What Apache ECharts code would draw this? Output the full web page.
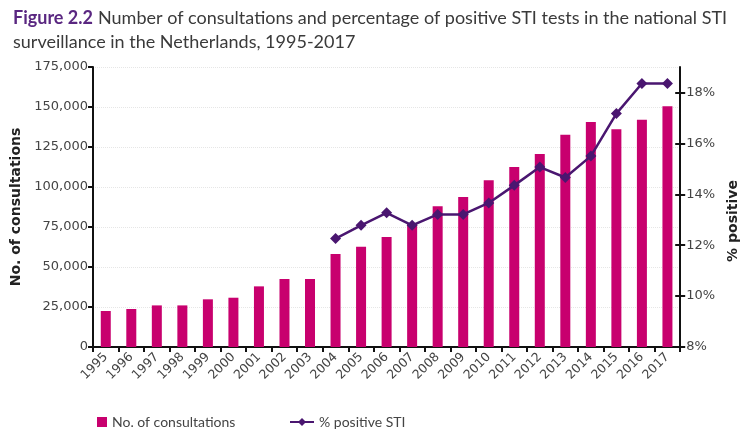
<!DOCTYPE html>
<html>
<head>
<meta charset="utf-8">
<script src="https://cdn.jsdelivr.net/npm/echarts@6/dist/echarts.min.js"></script>
<style>html,body{margin:0;padding:0;background:#fff;}#c{width:748px;height:436px;}</style>
</head>
<body>
<div id="c"></div>
<script>
const years = ['1995','1996','1997','1998','1999','2000','2001','2002','2003','2004','2005','2006','2007','2008','2009','2010','2011','2012','2013','2014','2015','2016','2017'];
const consultations = [22500,23750,26000,26000,29800,30800,37900,42500,42500,58100,62700,68700,77000,87900,93700,104200,112500,120600,132700,140600,136100,142100,150400];
const pctPositive = [null,null,null,null,null,null,null,null,null,12.26,12.78,13.27,12.78,13.21,13.21,13.66,14.35,15.07,14.66,15.50,17.17,18.35,18.35];
const leftTicks = [0,25000,50000,75000,100000,125000,150000,175000];
const rightTicks = [8,10,12,14,16,18];

const chart = echarts.init(document.getElementById('c'));
const labelFont = 'DejaVu Sans';
const textFont = 'Lato, "Noto Sans", sans-serif';
chart.setOption({
  animation: false,
  title: {
    left: 8, top: 1,
    text: '{a|Figure 2.2} {b|Number of consultations and percentage of positive STI tests in the national STI}\n{b|surveillance in the Netherlands, 1995-2017}',
    textStyle: {
      fontWeight: 'normal',
      rich: {
        a: {fontFamily: textFont, fontSize: 18, fontWeight: 'bold', color: '#5a2781', lineHeight: 24},
        b: {fontFamily: textFont, fontSize: 18, fontWeight: 'normal', color: '#3a3a3a', lineHeight: 24}
      }
    }
  },
  grid: {left: 93, right: 67, top: 67, bottom: 89, containLabel: false},
  legend: [
    {data: [{name: 'No. of consultations', icon: 'rect'}], left: 92, top: 410, itemWidth: 10, itemHeight: 10,
     textStyle: {fontFamily: textFont, fontSize: 14, color: '#444'}},
    {data: [{name: '% positive STI'}], left: 284, top: 410, itemWidth: 24, itemHeight: 10,
     textStyle: {fontFamily: textFont, fontSize: 14, color: '#444'}}
  ],
  xAxis: {
    type: 'category', data: years, boundaryGap: true,
    axisLine: {lineStyle: {color: '#111', width: 2}},
    axisTick: {show: true, length: 5, lineStyle: {color: '#111', width: 2}},
    axisLabel: {rotate: 45, interval: 0, fontFamily: labelFont, fontSize: 12.5, color: '#444', margin: 8}
  },
  yAxis: [
    {type: 'value', min: 0, max: 175000, interval: 25000, position: 'left',
     name: 'No. of consultations', nameLocation: 'middle', nameGap: 70, nameRotate: 90,
     nameTextStyle: {fontFamily: labelFont, fontSize: 14, fontWeight: 'bold', color: '#222'},
     axisLine: {show: true, lineStyle: {color: '#111', width: 2}},
     axisTick: {show: true, length: 5, lineStyle: {color: '#111', width: 2}},
     axisLabel: {fontFamily: labelFont, fontSize: 13, color: '#444', margin: 5,
       formatter: v => v.toLocaleString('en-US')},
     splitLine: {show: true, lineStyle: {color: '#e6e6e6', type: 'dotted', width: 1}}},
    {type: 'value', min: 8, max: 19, position: 'right',
     name: '% positive', nameLocation: 'middle', nameGap: 44, nameRotate: 90,
     nameTextStyle: {fontFamily: labelFont, fontSize: 14, fontWeight: 'bold', color: '#222', padding: [0,28,0,0]},
     axisLine: {show: true, lineStyle: {color: '#111', width: 2}},
     axisTick: {show: true, length: 5, customValues: rightTicks, lineStyle: {color: '#111', width: 2}},
     axisLabel: {fontFamily: labelFont, fontSize: 13, color: '#444', margin: 6, customValues: rightTicks,
       formatter: v => v + '%'},
     splitLine: {show: false}},
    {type: 'value', min: 8, max: 19, position: 'right',
     axisLine: {show: false},
     axisTick: {show: true, inside: true, length: 5, customValues: rightTicks, lineStyle: {color: '#111', width: 2}},
     axisLabel: {show: false},
     splitLine: {show: false}}
  ],
  series: [
    {name: 'No. of consultations', type: 'bar', data: consultations, barWidth: 10,
     itemStyle: {color: '#c8006e'}, yAxisIndex: 0},
    {name: '% positive STI', type: 'line', data: pctPositive, yAxisIndex: 1,
     symbol: 'diamond', symbolSize: 11, lineStyle: {color: '#4a1670', width: 2.5},
     itemStyle: {color: '#4a1670'}}
  ]
});
</script>
</body>
</html>
